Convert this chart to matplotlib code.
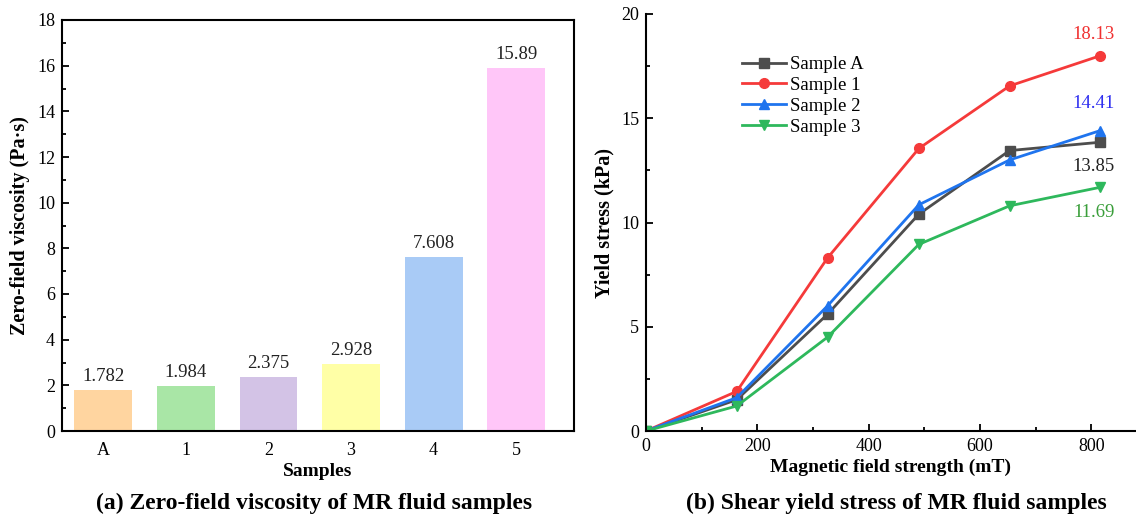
import matplotlib
matplotlib.use("Agg")
import matplotlib.pyplot as plt
from matplotlib.ticker import MultipleLocator

plt.rcParams['font.family'] = ['Liberation Serif', 'DejaVu Serif']

# ---- data (a) ----
samples = ["A", "1", "2", "3", "4", "5"]
viscosity = [1.782, 1.984, 2.375, 2.928, 7.608, 15.89]
viscosity_labels = ["1.782", "1.984", "2.375", "2.928", "7.608", "15.89"]
bar_colors = ["#ffd5a0", "#a9e6a6", "#d3c3e6", "#ffffa6", "#a9cbf6", "#ffc6f8"]

# ---- data (b) ----
field = [0, 163, 326, 490, 653, 816]
series_names = ["Sample A", "Sample 1", "Sample 2", "Sample 3"]
stress_A = [0, 1.5, 5.6, 10.4, 13.45, 13.85]
stress_1 = [0, 1.9, 8.3, 13.55, 16.55, 18.0]
stress_2 = [0, 1.6, 6.0, 10.85, 13.0, 14.41]
stress_3 = [0, 1.2, 4.5, 8.95, 10.8, 11.69]
line_colors = ["#4d4d4d", "#f53a3a", "#1f74ee", "#2eb85c"]
markers = ["s", "o", "^", "v"]
end_labels = ["13.85", "18.13", "14.41", "11.69"]
end_label_colors = ["#222222", "#f03030", "#3030f0", "#3a9e3a"]
end_label_y = [12.7, 19.0, 15.7, 10.5]

fig = plt.figure(figsize=(11.36, 5.2), dpi=100)

# ---- panel (a) ----
ax1 = fig.add_axes([62/1136, 1-431/520, (574-62)/1136, (431-20)/520])
x = list(range(len(samples)))
ax1.bar(x, viscosity, width=0.7, color=bar_colors)
for xi, v, lab in zip(x, viscosity, viscosity_labels):
    ax1.text(xi, v + 0.22, lab, ha='center', va='bottom', fontsize=13.5, color='#222222')
ax1.set_xlim(-0.5, 5.7)
ax1.set_ylim(0, 18)
ax1.set_xticks(x)
ax1.set_xticklabels(samples)
ax1.yaxis.set_major_locator(MultipleLocator(2))
ax1.yaxis.set_minor_locator(MultipleLocator(1))
ax1.tick_params(axis='y', which='both', direction='in', labelsize=13, width=1.3, pad=5)
ax1.tick_params(axis='y', which='major', length=5)
ax1.tick_params(axis='y', which='minor', length=3)
ax1.tick_params(axis='x', length=0, labelsize=13, pad=8)
for s in ax1.spines.values():
    s.set_linewidth(1.5)
ax1.set_xlabel("Samples", fontsize=14, fontweight='bold', labelpad=3)
ax1.set_ylabel("Zero-field viscosity (Pa·s)", fontsize=14.5, fontweight='bold', labelpad=5)

# ---- panel (b) ----
ax2 = fig.add_axes([646/1136, 1-431/520, (1136-646)/1136, (431-14)/520])
all_series = [stress_A, stress_1, stress_2, stress_3]
for ys, name, c, m in zip(all_series, series_names, line_colors, markers):
    ax2.plot(field, ys, color=c, marker=m, markersize=7, linewidth=2, label=name)
ax2.set_xlim(0, 880)
ax2.set_ylim(0, 20)
ax2.xaxis.set_major_locator(MultipleLocator(200))
ax2.xaxis.set_minor_locator(MultipleLocator(100))
ax2.yaxis.set_major_locator(MultipleLocator(5))
ax2.yaxis.set_minor_locator(MultipleLocator(2.5))
ax2.tick_params(which='both', direction='in', labelsize=13, width=1.3, pad=5)
ax2.tick_params(which='major', length=5)
ax2.tick_params(which='minor', length=3)
ax2.spines['top'].set_visible(False)
ax2.spines['right'].set_visible(False)
for s in ['left', 'bottom']:
    ax2.spines[s].set_linewidth(1.5)
ax2.set_xlabel("Magnetic field strength (mT)", fontsize=14, fontweight='bold', labelpad=3)
ax2.set_ylabel("Yield stress (kPa)", fontsize=14.5, fontweight='bold', labelpad=5)

for lab, c, ly in zip(end_labels, end_label_colors, end_label_y):
    ax2.text(804, ly, lab, ha='center', va='center', fontsize=13.5, color=c)

leg = ax2.legend(loc='upper left', bbox_to_anchor=(96/490, 375/417), frameon=False,
                 fontsize=13.5, handlelength=2.35, handletextpad=0.2, labelspacing=0.2,
                 borderaxespad=0, borderpad=0)

# ---- captions ----
fig.text(314/1136, 1-503/520, "(a) Zero-field viscosity of MR fluid samples",
         ha='center', va='center', fontsize=17, fontweight='bold')
fig.text(896/1136, 1-503/520, "(b) Shear yield stress of MR fluid samples",
         ha='center', va='center', fontsize=17, fontweight='bold')

fig.savefig("out.png", dpi=100)
